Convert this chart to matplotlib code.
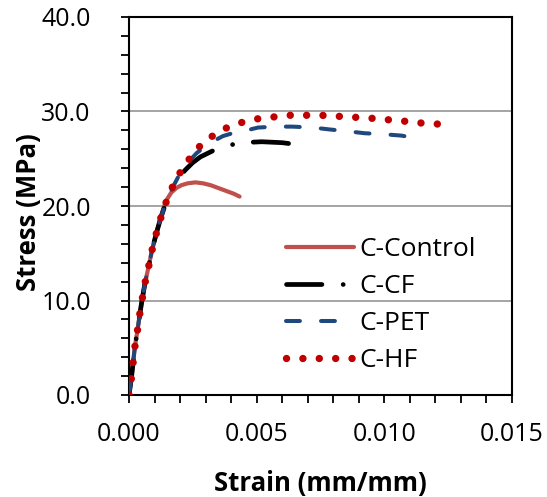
import matplotlib
matplotlib.use("Agg")
import matplotlib.pyplot as plt
from matplotlib.lines import Line2D
from matplotlib.ticker import MultipleLocator, FormatStrFormatter

# ---- data (strain in 1e-3 mm/mm, stress in MPa) ----
control_strain = [0, 0.09, 0.16, 0.23, 0.33, 0.42, 0.52, 0.63, 0.77, 0.90, 1.06, 1.24, 1.44,
                  1.65, 1.85, 2.05, 2.30, 2.60, 2.90, 3.20, 3.50, 3.80, 4.10, 4.33]
control_stress = [0, 1.7, 3.4, 5.1, 6.8, 8.5, 10.2, 11.9, 13.6, 15.3, 17.0, 18.8, 20.5,
                  21.4, 21.9, 22.2, 22.4, 22.5, 22.4, 22.2, 21.9, 21.6, 21.3, 21.0]

cf_strain = [0, 0.09, 0.16, 0.23, 0.33, 0.42, 0.52, 0.63, 0.77, 0.90, 1.06, 1.24, 1.44,
             1.68, 1.95, 2.20, 2.50, 2.80, 3.10, 3.40, 3.70, 4.05, 4.40, 4.80, 5.20, 5.60, 6.00, 6.29]
cf_stress = [0, 1.7, 3.4, 5.1, 6.8, 8.5, 10.2, 11.9, 13.6, 15.3, 17.0, 18.7, 20.3,
             21.7, 23.0, 23.8, 24.6, 25.2, 25.6, 26.0, 26.3, 26.5, 26.65, 26.75, 26.8, 26.75, 26.7, 26.6]

pet_strain = [0, 0.09, 0.16, 0.23, 0.33, 0.42, 0.52, 0.63, 0.77, 0.90, 1.06, 1.24, 1.44,
              1.68, 1.97, 2.30, 2.65, 3.03, 3.40, 3.68, 4.05, 4.40, 4.75, 5.05, 5.40, 5.77,
              6.40, 7.20, 7.86, 8.58, 9.23, 9.95, 10.67, 11.38]
pet_stress = [0, 1.7, 3.4, 5.1, 6.8, 8.5, 10.2, 11.9, 13.6, 15.3, 17.0, 18.7, 20.3,
              21.8, 23.3, 24.6, 25.6, 26.4, 27.0, 27.4, 27.7, 27.9, 28.1, 28.3, 28.35, 28.4,
              28.4, 28.3, 28.1, 27.9, 27.7, 27.6, 27.45, 27.1]

hf_strain = [0, 0.09, 0.16, 0.23, 0.33, 0.42, 0.52, 0.63, 0.77, 0.90, 1.06, 1.24, 1.44,
             1.68, 1.97, 2.31, 2.72, 3.21, 3.76, 4.36, 4.96, 5.60, 6.24, 6.88, 7.50, 8.15,
             8.77, 9.43, 10.05, 10.70, 11.33, 11.97, 12.60]
hf_stress = [0, 1.7, 3.4, 5.1, 6.8, 8.55, 10.2, 11.9, 13.6, 15.3, 17.0, 18.7, 20.3,
             21.9, 23.4, 24.8, 26.2, 27.3, 28.2, 28.8, 29.2, 29.4, 29.6, 29.6, 29.6, 29.5,
             29.4, 29.3, 29.15, 29.0, 28.8, 28.7, 28.55]

labels = ["C-Control", "C-CF", "C-PET", "C-HF"]
colors = ["#C0504D", "#000000", "#1F497D", "#C00000"]

x_ticks = [0.000, 0.005, 0.010, 0.015]
y_ticks = [0.0, 10.0, 20.0, 30.0, 40.0]

plt.rcParams['font.family'] = ['Open Sans', 'DejaVu Sans']

fig = plt.figure(figsize=(5.47, 4.97), dpi=100)
ax = fig.add_axes([129/547, 102/497, 383/547, 378/497])

styles = [
    dict(color=colors[0], lw=3.0, linestyle='-', solid_capstyle='round'),
    dict(color=colors[1], lw=3.4, dashes=(7.5, 4.5, 0.01, 4.4), dash_capstyle='round'),
    dict(color=colors[2], lw=2.9, dashes=(3.45, 5.25), dash_capstyle='round'),
    dict(color=colors[3], lw=5.3, dashes=(0.01, 2.215), dash_capstyle='round'),
]

scale = 1e-3
series = [(control_strain, control_stress), (cf_strain, cf_stress),
          (pet_strain, pet_stress), (hf_strain, hf_stress)]
for i, (xs, ys) in enumerate(series):
    ax.plot([s*scale for s in xs], ys, zorder=3+i, **styles[i])

ax.set_xlim(0, 0.015)
ax.set_ylim(0, 40)
ax.set_xticks(x_ticks)
ax.set_yticks(y_ticks)
ax.xaxis.set_minor_locator(MultipleLocator(0.001))
ax.yaxis.set_minor_locator(MultipleLocator(2))
ax.xaxis.set_major_formatter(FormatStrFormatter('%.3f'))
ax.yaxis.set_major_formatter(FormatStrFormatter('%.1f'))

for sp in ax.spines.values():
    sp.set_linewidth(1.5)
    sp.set_color('black')

ax.tick_params(axis='both', which='both', direction='out', length=5.5, width=1.3, color='black')
ax.tick_params(axis='y', which='major', pad=22, labelsize=18)
ax.tick_params(axis='x', which='major', pad=14, labelsize=18)

ax.yaxis.grid(True, which='major', color='#8C8C8C', lw=1.1)
ax.set_axisbelow(True)

ax.set_xlabel("Strain (mm/mm)", fontsize=18.5, fontweight='bold')
ax.set_ylabel("Stress (MPa)", fontsize=18.5, fontweight='bold')
ax.xaxis.label.set_verticalalignment('center')
ax.xaxis.set_label_coords(0.5, (395-483)/378)
ax.yaxis.label.set_verticalalignment('center')
ax.yaxis.set_label_coords((29-129)/383, (395-212)/378)

handles = [Line2D([], [], **st) for st in styles]
leg = ax.legend(handles, labels, loc='upper left',
                bbox_to_anchor=((286-129)/383, (395-237)/378),
                frameon=False, fontsize=19, handlelength=2.56, handletextpad=0.22,
                labelspacing=0.455, borderpad=0, borderaxespad=0)

fig.savefig("out.png", dpi=100)
